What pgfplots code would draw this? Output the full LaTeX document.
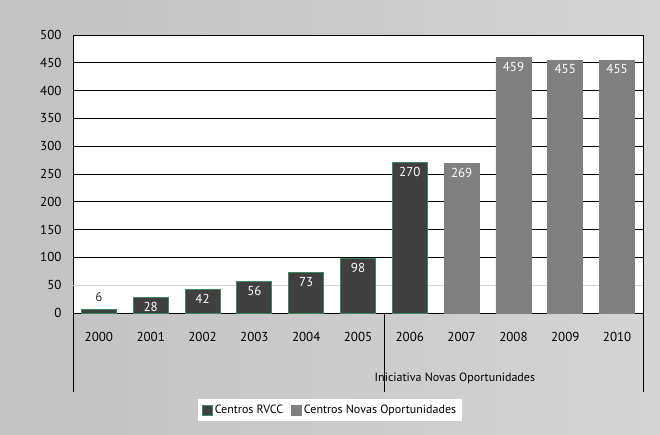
\documentclass[border=0pt]{standalone}
\usepackage{fontspec}
\setmainfont{PT Sans}
\usepackage{pgfplots}
\pgfplotsset{compat=1.18}

\definecolor{bgL}{RGB}{194,194,194}
\definecolor{bgR}{RGB}{212,212,212}
\definecolor{rvcc}{RGB}{64,64,64}
\definecolor{rvccedge}{RGB}{60,135,95}
\definecolor{novas}{RGB}{128,128,128}

\begin{document}
\begin{tikzpicture}
\shade[left color=bgL, right color=bgR] (-73pt,-122pt) rectangle (587pt,313pt);
\begin{axis}[
    scale only axis,
    width=570pt, height=278pt,
    at={(0,0)}, anchor=south west,
    axis background/.style={fill=white},
    clip=false,
    ybar, bar width=35pt, bar shift=0pt,
    xmin=-0.5, xmax=10.5,
    ymin=0, ymax=500,
    ytick={0,100,150,200,250,300,350,400,450,500},
    extra y ticks={50},
    extra y tick style={grid style={draw=black!18, line width=0.6pt}},
    xtick={0,...,10},
    xticklabels={2000,2001,2002,2003,2004,2005,2006,2007,2008,2009,2010},
    major tick length=0pt,
    ymajorgrids,
    grid style={draw=black, line width=0.8pt},
    axis line style={draw=black, line width=0.8pt},
    tick label style={font=\fontsize{13}{15}\selectfont, text=black},
    /pgf/number format/assume math mode=true,
    xticklabel style={yshift=-16pt},
    yticklabel style={xshift=-8pt},
    legend style={at={(0.451,-0.349)}, anchor=center, draw=none, fill=white,
        legend columns=2, font=\fontsize{12}{14}\selectfont,
        /tikz/every even column/.append style={column sep=6pt},
        inner xsep=4pt, inner ysep=4pt},
    legend image code/.code={\draw[#1, bar width=0pt] (0pt,-5pt) rectangle (10pt,5pt);},
    nodes near coords,
    nodes near coords style={font=\fontsize{13}{15}\selectfont, text=white, anchor=north, yshift=-1pt},
]
% 2000 (label above the bar)
\addplot[fill=rvcc, draw=rvccedge, line width=0.8pt, forget plot,
    nodes near coords style={text=black!80, anchor=south, yshift=5pt}]
    coordinates {(0,6)};
\addplot[fill=rvcc, draw=rvccedge, line width=0.8pt]
    coordinates {(1,28) (2,42) (3,56) (4,73) (5,98) (6,270)};
\addplot[fill=novas, draw=novas, line width=0.8pt]
    coordinates {(7,269) (8,459) (9,455) (10,455)};
\legend{Centros RVCC, Centros Novas Oportunidades}
% category group separators
\draw[black, line width=0.8pt] (axis cs:-0.5,0) -- ([yshift=-79pt]axis cs:-0.5,0);
\draw[black, line width=0.8pt] (axis cs:5.5,0) -- ([yshift=-79pt]axis cs:5.5,0);
\draw[black, line width=0.8pt] (axis cs:10.5,0) -- ([yshift=-79pt]axis cs:10.5,0);
\node[font=\fontsize{12}{14}\selectfont, anchor=center] at (axis cs:6.87,0) [yshift=-65pt] {Iniciativa Novas Oportunidades};
\end{axis}
\pgfresetboundingbox
\useasboundingbox (-73pt,-122pt) rectangle (587pt,313pt);
\end{tikzpicture}
\end{document}
